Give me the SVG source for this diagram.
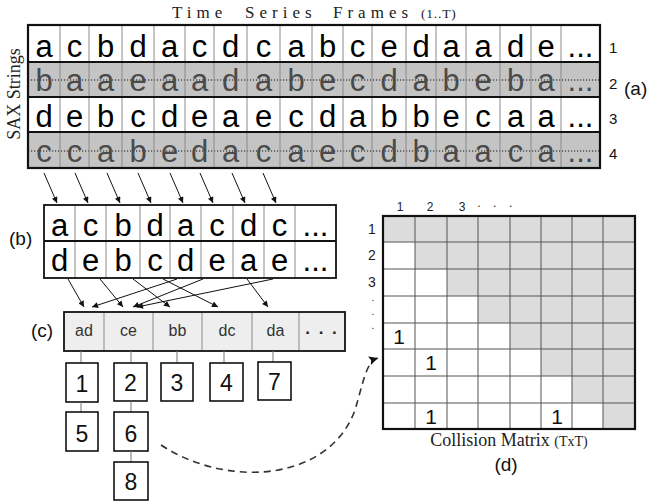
<svg xmlns="http://www.w3.org/2000/svg" width="647" height="504" viewBox="0 0 647 504">
<style>
.serif{font-family:"Liberation Serif","Times New Roman",serif;fill:#222}
.sans{font-family:"Liberation Sans",Arial,sans-serif}
.big{font-size:31px;text-anchor:middle;fill:#000}
.bigg{font-size:31px;text-anchor:middle;fill:#4a4a4a}
.lab{font-size:19px;fill:#111}
.div{stroke:#8a8a8a;stroke-width:1}
.hl{stroke:#111;stroke-width:1.8}
.frame{fill:none;stroke:#111;stroke-width:2.2}
.dot{stroke:#111;stroke-width:1;stroke-dasharray:1.2 1.8}
.arr{stroke:#111;stroke-width:1;fill:none;marker-end:url(#ah)}
.box{fill:#fff;stroke:#111;stroke-width:1.6}
.num{font-size:23px;text-anchor:middle;fill:#111}
.tie{stroke:#777;stroke-width:1}
.gc{fill:#dcdcdc}
.ml{stroke:#555;stroke-width:1}
.one{font-size:21px;text-anchor:middle;fill:#111}
.cl{font-size:16px;text-anchor:middle;fill:#333}
</style>
<defs>
<marker id="ah" viewBox="0 0 10 10" refX="10" refY="5" markerWidth="7" markerHeight="6" markerUnits="userSpaceOnUse" orient="auto">
<path d="M0,0 L10,5 L0,10 z" fill="#111"/>
</marker>
<marker id="ah2" viewBox="0 0 10 10" refX="10" refY="5" markerWidth="12" markerHeight="9" markerUnits="userSpaceOnUse" orient="auto">
<path d="M0,0 L10,5 L0,10 L2,5 z" fill="#111"/>
</marker>
</defs>

<g id="title">
<text class="serif" y="18" font-size="17" letter-spacing="5"><tspan x="172">Time</tspan><tspan x="245">Series</tspan><tspan x="333">Frames</tspan><tspan x="421" font-size="13.5" letter-spacing="0.8">(1..T)</tspan></text>
</g>

<g id="sax-label">
<text class="serif" font-size="18" text-anchor="middle" transform="translate(20,94) rotate(-90)">SAX Strings</text>
</g>

<g id="grid-a">
<rect x="28" y="25" width="572" height="37" fill="#fff"/>
<rect x="28" y="62" width="572" height="35" fill="#c4c4c4"/>
<rect x="28" y="97" width="572" height="35" fill="#fff"/>
<rect x="28" y="132" width="572" height="36" fill="#c4c4c4"/>
<line class="dot" x1="28" y1="80" x2="600" y2="80"/>
<line class="dot" x1="28" y1="151" x2="600" y2="151"/>
<g class="div">
<line x1="60" y1="25" x2="60" y2="168"/><line x1="89" y1="25" x2="89" y2="168"/><line x1="122" y1="25" x2="122" y2="168"/><line x1="154" y1="25" x2="154" y2="168"/><line x1="185" y1="25" x2="185" y2="168"/><line x1="214" y1="25" x2="214" y2="168"/><line x1="247" y1="25" x2="247" y2="168"/><line x1="280" y1="25" x2="280" y2="168"/><line x1="312" y1="25" x2="312" y2="168"/><line x1="343" y1="25" x2="343" y2="168"/><line x1="372" y1="25" x2="372" y2="168"/><line x1="406" y1="25" x2="406" y2="168"/><line x1="436" y1="25" x2="436" y2="168"/><line x1="466" y1="25" x2="466" y2="168"/><line x1="500" y1="25" x2="500" y2="168"/><line x1="531" y1="25" x2="531" y2="168"/><line x1="561" y1="25" x2="561" y2="168"/>
</g>
<line class="hl" x1="28" y1="62" x2="600" y2="62"/>
<line class="hl" x1="28" y1="97" x2="600" y2="97"/>
<line class="hl" x1="28" y1="132" x2="600" y2="132"/>
<rect class="frame" x="28" y="25" width="572" height="143"/>
<text class="sans big" y="57"><tspan x="44">a</tspan><tspan x="74.5">c</tspan><tspan x="105.5">b</tspan><tspan x="138">d</tspan><tspan x="169.5">a</tspan><tspan x="199.5">c</tspan><tspan x="230.5">d</tspan><tspan x="263.5">c</tspan><tspan x="296">a</tspan><tspan x="327.5">b</tspan><tspan x="357.5">c</tspan><tspan x="389">e</tspan><tspan x="421">d</tspan><tspan x="451">a</tspan><tspan x="483">a</tspan><tspan x="515.5">d</tspan><tspan x="546">e</tspan><tspan x="580.5">...</tspan></text>
<text class="sans bigg" y="91"><tspan x="44">b</tspan><tspan x="74.5">a</tspan><tspan x="105.5">a</tspan><tspan x="138">e</tspan><tspan x="169.5">a</tspan><tspan x="199.5">a</tspan><tspan x="230.5">d</tspan><tspan x="263.5">a</tspan><tspan x="296">b</tspan><tspan x="327.5">e</tspan><tspan x="357.5">c</tspan><tspan x="389">d</tspan><tspan x="421">a</tspan><tspan x="451">b</tspan><tspan x="483">e</tspan><tspan x="515.5">b</tspan><tspan x="546">a</tspan><tspan x="580.5">...</tspan></text>
<text class="sans big" y="127"><tspan x="44">d</tspan><tspan x="74.5">e</tspan><tspan x="105.5">b</tspan><tspan x="138">c</tspan><tspan x="169.5">d</tspan><tspan x="199.5">e</tspan><tspan x="230.5">a</tspan><tspan x="263.5">e</tspan><tspan x="296">c</tspan><tspan x="327.5">d</tspan><tspan x="357.5">a</tspan><tspan x="389">b</tspan><tspan x="421">b</tspan><tspan x="451">e</tspan><tspan x="483">c</tspan><tspan x="515.5">a</tspan><tspan x="546">a</tspan><tspan x="580.5">...</tspan></text>
<text class="sans bigg" y="162"><tspan x="44">c</tspan><tspan x="74.5">c</tspan><tspan x="105.5">a</tspan><tspan x="138">b</tspan><tspan x="169.5">e</tspan><tspan x="199.5">d</tspan><tspan x="230.5">a</tspan><tspan x="263.5">c</tspan><tspan x="296">a</tspan><tspan x="327.5">e</tspan><tspan x="357.5">c</tspan><tspan x="389">d</tspan><tspan x="421">b</tspan><tspan x="451">a</tspan><tspan x="483">a</tspan><tspan x="515.5">c</tspan><tspan x="546">a</tspan><tspan x="580.5">...</tspan></text>
<g class="sans" font-size="15" fill="#111">
<text x="609" y="53">1</text><text x="609" y="89">2</text><text x="609" y="124">3</text><text x="609" y="159">4</text>
</g>
<text class="sans lab" x="624" y="95">(a)</text>
</g>

<g id="grid-b">
<rect x="44" y="205" width="292" height="73" fill="#fff"/>
<g class="div">
<line x1="75" y1="205" x2="75" y2="278"/><line x1="106" y1="205" x2="106" y2="278"/><line x1="140" y1="205" x2="140" y2="278"/><line x1="170" y1="205" x2="170" y2="278"/><line x1="201" y1="205" x2="201" y2="278"/><line x1="233" y1="205" x2="233" y2="278"/><line x1="264" y1="205" x2="264" y2="278"/><line x1="295" y1="205" x2="295" y2="278"/>
</g>
<line class="hl" x1="44" y1="241" x2="336" y2="241"/>
<rect x="44" y="205" width="292" height="73" fill="none" stroke="#111" stroke-width="1.8"/>
<text class="sans big" y="236"><tspan x="59.5">a</tspan><tspan x="90.5">c</tspan><tspan x="123">b</tspan><tspan x="155">d</tspan><tspan x="185.5">a</tspan><tspan x="217">c</tspan><tspan x="248.5">d</tspan><tspan x="279.5">c</tspan><tspan x="315.5">...</tspan></text>
<text class="sans big" y="271"><tspan x="59.5">d</tspan><tspan x="90.5">e</tspan><tspan x="123">b</tspan><tspan x="155">c</tspan><tspan x="185.5">d</tspan><tspan x="217">e</tspan><tspan x="248.5">a</tspan><tspan x="279.5">e</tspan><tspan x="315.5">...</tspan></text>
<text class="sans lab" x="9" y="245">(b)</text>
</g>

<g id="table-c">
<rect x="64" y="312" width="281" height="39" fill="#eeeeee"/>
<g class="div">
<line x1="104" y1="312" x2="104" y2="351"/><line x1="153" y1="312" x2="153" y2="351"/><line x1="202" y1="312" x2="202" y2="351"/><line x1="252" y1="312" x2="252" y2="351"/><line x1="299" y1="312" x2="299" y2="351"/>
</g>
<rect x="64" y="312" width="281" height="39" fill="none" stroke="#111" stroke-width="1.8"/>
<text class="sans cl" y="336"><tspan x="84">ad</tspan><tspan x="128.5">ce</tspan><tspan x="177.5">bb</tspan><tspan x="227">dc</tspan><tspan x="275.5">da</tspan></text>
<text class="sans" x="322" y="334" font-size="17" font-weight="bold" text-anchor="middle" letter-spacing="2" fill="#222">. . .</text>
<text class="sans lab" x="31" y="337">(c)</text>
</g>

<g id="box-1"><line class="tie" x1="81" y1="351" x2="81" y2="363"/><rect class="box" x="66" y="363" width="32" height="39"/><text class="sans num" x="82" y="392">1</text></g>
<g id="box-5"><line class="tie" x1="81" y1="402" x2="81" y2="412"/><rect class="box" x="66" y="412" width="32" height="39"/><text class="sans num" x="82" y="442">5</text></g>
<g id="box-2"><line class="tie" x1="131" y1="351" x2="131" y2="363"/><rect class="box" x="114" y="363" width="33" height="38"/><text class="sans num" x="130.5" y="391">2</text></g>
<g id="box-6"><line class="tie" x1="131" y1="401" x2="131" y2="412"/><rect class="box" x="114" y="412" width="34" height="39"/><text class="sans num" x="131" y="442">6</text></g>
<g id="box-8"><line class="tie" x1="131" y1="451" x2="131" y2="462"/><rect class="box" x="114" y="462" width="34" height="38"/><text class="sans num" x="131" y="490">8</text></g>
<g id="box-3"><line class="tie" x1="177" y1="351" x2="177" y2="363"/><rect class="box" x="161" y="363" width="32" height="38"/><text class="sans num" x="177" y="391">3</text></g>
<g id="box-4"><line class="tie" x1="224" y1="351" x2="224" y2="363"/><rect class="box" x="210" y="363" width="33" height="38"/><text class="sans num" x="226.5" y="391">4</text></g>
<g id="box-7"><line class="tie" x1="273" y1="351" x2="273" y2="362"/><rect class="box" x="258" y="362" width="33" height="38"/><text class="sans num" x="274.5" y="390">7</text></g>

<g id="matrix">
<rect x="383" y="216" width="252" height="213" fill="#fff"/>
<rect class="gc" x="383" y="216" width="252" height="26"/>
<rect class="gc" x="415" y="242" width="220" height="27"/>
<rect class="gc" x="447" y="269" width="188" height="27"/>
<rect class="gc" x="478" y="296" width="157" height="27"/>
<rect class="gc" x="510" y="323" width="125" height="26"/>
<rect class="gc" x="541" y="349" width="94" height="27"/>
<rect class="gc" x="572" y="376" width="63" height="27"/>
<rect class="gc" x="603" y="403" width="32" height="26"/>
<g class="ml">
<line x1="415" y1="216" x2="415" y2="429"/><line x1="447" y1="216" x2="447" y2="429"/><line x1="478" y1="216" x2="478" y2="429"/><line x1="510" y1="216" x2="510" y2="429"/><line x1="541" y1="216" x2="541" y2="429"/><line x1="572" y1="216" x2="572" y2="429"/><line x1="603" y1="216" x2="603" y2="429"/>
<line x1="383" y1="242" x2="635" y2="242"/><line x1="383" y1="269" x2="635" y2="269"/><line x1="383" y1="296" x2="635" y2="296"/><line x1="383" y1="323" x2="635" y2="323"/><line x1="383" y1="349" x2="635" y2="349"/><line x1="383" y1="376" x2="635" y2="376"/><line x1="383" y1="403" x2="635" y2="403"/>
</g>
<rect class="frame" x="383" y="216" width="252" height="213"/>
<text class="sans one" x="399" y="344">1</text>
<text class="sans one" x="431" y="370">1</text>
<text class="sans one" x="431" y="424">1</text>
<text class="sans one" x="557" y="424">1</text>
<g class="sans" font-size="12" fill="#222" text-anchor="middle">
<text x="400" y="211">1</text><text x="430" y="211">2</text><text x="462" y="211">3</text>
<text x="497" y="207" letter-spacing="4.6">. . .</text>
</g>
<g class="sans" font-size="14" fill="#222" text-anchor="middle">
<text x="372" y="234">1</text><text x="372" y="260">2</text><text x="372" y="287">3</text>
</g>
<g class="sans" font-size="10" fill="#222" text-anchor="middle">
<text x="373" y="301">.</text><text x="373" y="315">.</text><text x="373" y="329">.</text>
</g>
<text class="serif" x="509" y="446" text-anchor="middle" font-size="18" fill="#111">Collision  Matrix <tspan font-size="14">(TxT)</tspan></text>
<text class="sans lab" x="506" y="471" text-anchor="middle">(d)</text>
</g>

<g id="connectors">
<line class="arr" x1="44" y1="173" x2="57" y2="203"/>
<line class="arr" x1="75" y1="173" x2="88" y2="203"/>
<line class="arr" x1="107" y1="173" x2="120" y2="203"/>
<line class="arr" x1="138" y1="173" x2="151" y2="203"/>
<line class="arr" x1="170" y1="173" x2="183" y2="203"/>
<line class="arr" x1="200" y1="173" x2="213" y2="203"/>
<line class="arr" x1="232" y1="173" x2="245" y2="203"/>
<line class="arr" x1="263" y1="173" x2="276" y2="203"/>
<line class="arr" x1="68" y1="279" x2="84" y2="307"/>
<line class="arr" x1="100" y1="279" x2="123" y2="307"/>
<line class="arr" x1="133" y1="279" x2="170" y2="307"/>
<line class="arr" x1="163" y1="279" x2="218" y2="307"/>
<line class="arr" x1="177" y1="279" x2="92" y2="307"/>
<line class="arr" x1="203" y1="279" x2="133" y2="307"/>
<line class="arr" x1="247" y1="279" x2="268" y2="307"/>
<line class="arr" x1="273" y1="279" x2="137" y2="307"/>
<path d="M161,445 C230,490 330,480 355,410 C364,380 366,362 378,358" fill="none" stroke="#333" stroke-width="1.6" stroke-dasharray="7 5" marker-end="url(#ah2)"/>
</g>
</svg>
